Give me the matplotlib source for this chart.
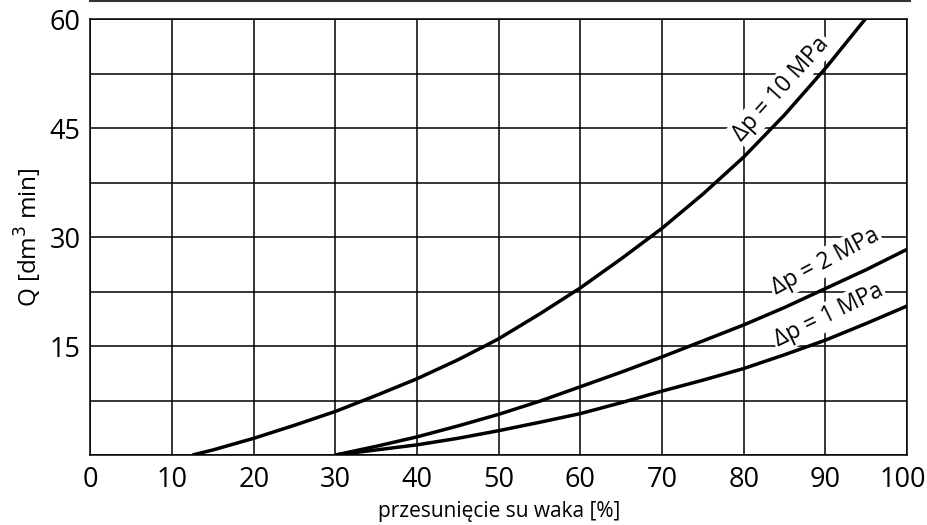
import matplotlib
matplotlib.use('Agg')
import matplotlib.pyplot as plt
from matplotlib.lines import Line2D
import matplotlib.transforms as mtransforms

plt.rcParams['font.family'] = ['Open Sans', 'DejaVu Sans']

# readings from the reference chart
x_10 = [12.5, 15, 20, 25, 30, 35, 40, 45, 48.3, 50, 55, 60, 65, 70, 75, 80, 85, 90, 94.9]
q_10 = [0, 0.7, 2.3, 4.1, 6.0, 8.2, 10.5, 13.1, 15.0, 16.0, 19.4, 23.0, 27.0, 31.2, 35.9, 41.0, 46.8, 53.2, 60]

x_2 = [30, 35, 40, 45, 50, 55, 60, 65, 70, 75, 80, 85, 90, 95, 100]
q_2 = [0, 1.2, 2.5, 4.0, 5.6, 7.4, 9.4, 11.4, 13.5, 15.7, 17.9, 20.3, 22.9, 25.5, 28.3]

x_1 = [30, 35, 40, 45, 50, 55, 60, 65, 70, 75, 80, 85, 90, 95, 100]
q_1 = [0, 0.7, 1.4, 2.3, 3.35, 4.5, 5.7, 7.2, 8.8, 10.3, 11.9, 13.8, 15.8, 18.1, 20.5]

xticks = [0, 10, 20, 30, 40, 50, 60, 70, 80, 90, 100]
ygrid = [0, 7.5, 15, 22.5, 30, 37.5, 45, 52.5, 60]
ylabels = ['', '', '15', '', '30', '', '45', '', '60']

fig = plt.figure(figsize=(9.27, 5.25), dpi=100)
ax = fig.add_axes([0.0976, 0.1333, 0.8808, 0.8305])

for xs, qs in [(x_10, q_10), (x_2, q_2), (x_1, q_1)]:
    ax.plot(xs, qs, color='black', lw=2.5, zorder=4, solid_capstyle='butt')

ax.set_xlim(0, 100)
ax.set_ylim(0, 60)
ax.set_xticks(xticks)
ax.set_yticks(ygrid)
ax.set_yticklabels(ylabels)
ax.tick_params(axis='both', length=0, labelsize=19.5, labelcolor='black')
ax.tick_params(axis='x', pad=8)
ax.tick_params(axis='y', pad=7)
ax.grid(True, color='black', lw=1.1, zorder=1)
ax.set_axisbelow(True)
for s in ax.spines.values():
    s.set_linewidth(1.1)

# keep the "100" label inside the figure like in the reference
last = ax.get_xticklabels()[-1]
last.set_transform(last.get_transform() + mtransforms.ScaledTranslation(-4 / 100, 0, fig.dpi_scale_trans))

ax.set_xlabel('przesunięcie su waka [%]', fontsize=15, labelpad=5)
ax.set_ylabel('Q [dm$^3$ min]', fontsize=17.5, labelpad=4)

box = dict(facecolor='white', edgecolor='none', pad=1.5)
ax.text(84.6, 50.4, 'Δp = 10 MPa', rotation=48, fontsize=16.5, ha='center', va='center',
        bbox=box, zorder=3, rotation_mode='anchor')
ax.text(90.0, 26.6, 'Δp = 2 MPa', rotation=28, fontsize=16.5, ha='center', va='center',
        bbox=box, zorder=3, rotation_mode='anchor')
ax.text(90.4, 19.2, 'Δp = 1 MPa', rotation=26, fontsize=16.5, ha='center', va='center',
        bbox=box, zorder=3, rotation_mode='anchor')

fig.add_artist(Line2D([0.097, 0.982], [0.998, 0.998], color='#333333', lw=1.5,
                      transform=fig.transFigure))

fig.savefig('out.png', dpi=100)
